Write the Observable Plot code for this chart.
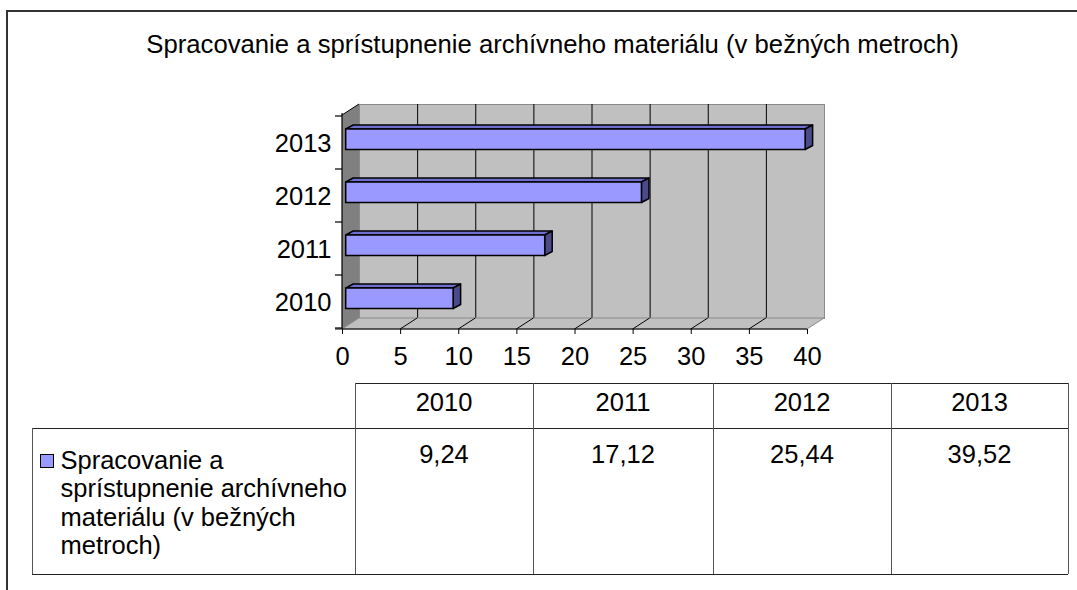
<!DOCTYPE html>
<html><head><meta charset="utf-8">
<script src="https://cdn.jsdelivr.net/npm/d3@7"></script>
<script src="https://cdn.jsdelivr.net/npm/@observablehq/plot@0.6"></script>
<style>
html,body{margin:0;padding:0;background:#fff;overflow:hidden;}
body{width:1077px;height:590px;position:relative;font-family:"Liberation Sans",Arial,sans-serif;color:#000;}
#frame{position:absolute;left:6px;top:10px;width:1200px;height:700px;border-left:2px solid #333;border-top:2px solid #333;}
#title{position:absolute;left:0;width:1105px;top:29.5px;line-height:28.3px;font-size:25.7px;text-align:center;white-space:nowrap;}
#chart{position:absolute;left:0;top:0;}
.cell{position:absolute;box-sizing:border-box;font-size:25.5px;line-height:28.3px;white-space:nowrap;}
.hl{position:absolute;height:0;border-top:1px solid #222;}
.vl{position:absolute;width:0;border-left:1px solid #555;}
</style></head><body>
<div id="frame"></div>
<div id="title"></div>
<div id="chart"></div>
<div id="table"></div>
<script>
// ---- data ----
const years = ["2010", "2011", "2012", "2013"];
const values = [9.24, 17.12, 25.44, 39.52];
const xTicks = [0, 5, 10, 15, 20, 25, 30, 35, 40];
const seriesName = "Spracovanie a sprístupnenie archívneho materiálu (v bežných metroch)";
const titleText = "Spracovanie a sprístupnenie archívneho materiálu (v bežných metroch)";

const data = years.map((year, i) => ({year, value: values[i]}));

// ---- styling constants ----
const DX = 17, DY = -11;       // depth of the 3D plot box
const BDX = 3.7;               // bar front-face offset
const BX = 7.5, BY = -4;       // bar depth
const INSET_TOP = 13, INSET_BOTTOM = 19.5;
const FRONT = "#9999ff", TOPC = "#6f6fd0", SIDE = "#4b4b8c";

document.getElementById("title").textContent = titleText;

function bandw(s) { return s.bandwidth ? s.bandwidth() : 0; }

// left wall, floor and floor lines
function wallsAndFloor(index, scales, vals, dim) {
  const {x} = scales;
  const top = dim.marginTop, bottom = dim.height - dim.marginBottom;
  const x0 = x(xTicks[0]), x1 = x(xTicks[xTicks.length - 1]);
  const g = d3.create("svg:g");
  g.append("path")
    .attr("d", `M${x0},${top}L${x0 + DX},${top + DY}L${x0 + DX},${bottom + DY}L${x0},${bottom}Z`)
    .attr("fill", "#808080");
  g.append("path")
    .attr("d", `M${x0},${top}L${x0 + DX},${top + DY}`)
    .attr("stroke", "#000").attr("stroke-width", 1);
  g.append("path")
    .attr("d", `M${x0},${bottom}L${x1},${bottom}L${x1 + DX},${bottom + DY}L${x0 + DX},${bottom + DY}Z`)
    .attr("fill", "#c0c0c0").attr("stroke", "#8a8a8a").attr("stroke-width", 1);
  for (const t of xTicks.slice(1, -1)) {
    g.append("path")
      .attr("d", `M${x(t)},${bottom}L${x(t) + DX},${bottom + DY}`)
      .attr("stroke", "#000").attr("stroke-width", 1);
  }
  return g.node();
}

// top and side faces of the bars
function barFaces(index, scales, vals, dim) {
  const {x, y} = scales;
  const bw = bandw(y);
  const g = d3.create("svg:g");
  for (const d of data) {
    const y0 = y(d.year) + INSET_TOP, h = bw - INSET_TOP - INSET_BOTTOM;
    const xa = x(0) + BDX, xb = x(d.value) + BDX;
    g.append("path")
      .attr("d", `M${xa},${y0}L${xa + BX},${y0 + BY}L${xb + BX},${y0 + BY}L${xb},${y0}Z`)
      .attr("fill", TOPC).attr("stroke", "#000").attr("stroke-width", 1.5).attr("stroke-linejoin", "round");
    g.append("path")
      .attr("d", `M${xb},${y0}L${xb + BX},${y0 + BY}L${xb + BX},${y0 + BY + h}L${xb},${y0 + h}Z`)
      .attr("fill", SIDE).attr("stroke", "#000").attr("stroke-width", 1.5).attr("stroke-linejoin", "round");
  }
  return g.node();
}

// axis lines and band-boundary ticks
function axisLines(index, scales, vals, dim) {
  const {x, y} = scales;
  const bw = bandw(y);
  const top = dim.marginTop, bottom = dim.height - dim.marginBottom;
  const x0 = x(xTicks[0]), x1 = x(xTicks[xTicks.length - 1]);
  const g = d3.create("svg:g").attr("stroke", "#000").attr("stroke-width", 1.2);
  g.append("path").attr("d", `M${x0 - 7},${bottom}L${x1},${bottom}`);
  g.append("path").attr("d", `M${x0},${top - 2}L${x0},${bottom}`);
  const bounds = y.domain().map(v => y(v));
  bounds.push(y(y.domain()[y.domain().length - 1]) + bw);
  for (const b of bounds) g.append("path").attr("d", `M${x0 - 7},${b}L${x0},${b}`);
  return g.node();
}

const chart = Plot.plot({
  width: 1077,
  height: 380,
  marginLeft: 342,
  marginRight: 270,
  marginTop: 115,
  marginBottom: 51,
  style: {fontFamily: "'Liberation Sans', Arial, sans-serif", fontSize: "25.5px", color: "#000", background: "transparent", overflow: "visible"},
  x: {domain: [0, 40]},
  y: {domain: years.slice().reverse(), padding: 0},
  marks: [
    Plot.frame({fill: "#c0c0c0", stroke: "#8a8a8a", dx: DX, dy: DY}),
    Plot.ruleX(xTicks.slice(1, -1), {stroke: "#000", strokeWidth: 1, dx: DX, dy: DY}),
    wallsAndFloor,
    barFaces,
    Plot.barX(data, {y: "year", x: "value", fill: FRONT, stroke: "#000", strokeWidth: 1.5,
      insetTop: INSET_TOP, insetBottom: INSET_BOTTOM, dx: BDX}),
    axisLines,
    Plot.axisX({ticks: xTicks, tickSize: 5, tickPadding: 12, tickFormat: d => String(d), fontSize: 25.5, label: null}),
    Plot.axisY({tickSize: 0, tickPadding: 11, fontSize: 25.5, dy: 1, label: null})
  ]
});
document.getElementById("chart").appendChild(chart);

// ---- data table ----
const T = document.getElementById("table");
const colX = [355, 533, 713, 891, 1068];
const rowY = [383, 428, 574];
const legendLeft = 32;
function add(cls, style, text) {
  const e = document.createElement("div");
  e.className = cls;
  Object.assign(e.style, style);
  if (text != null) e.textContent = text;
  T.appendChild(e);
  return e;
}
add("hl", {left: colX[0] + "px", top: rowY[0] + "px", width: (colX[4] - colX[0]) + "px"});
add("hl", {left: legendLeft + "px", top: rowY[1] + "px", width: (colX[4] - legendLeft) + "px"});
add("hl", {left: legendLeft + "px", top: rowY[2] + "px", width: (colX[4] - legendLeft) + "px"});
add("vl", {left: legendLeft + "px", top: rowY[1] + "px", height: (rowY[2] - rowY[1]) + "px"});
for (const cx of colX) add("vl", {left: cx + "px", top: rowY[0] + "px", height: (rowY[2] - rowY[0]) + "px"});
years.forEach((yr, i) => {
  add("cell", {left: colX[i] + "px", width: (colX[i + 1] - colX[i]) + "px", top: "387.9px", textAlign: "center"}, yr);
  add("cell", {left: colX[i] + "px", width: (colX[i + 1] - colX[i]) + "px", top: "440.2px", textAlign: "center"},
    values[i].toFixed(2).replace(".", ","));
});
add("cell", {left: "40px", top: "454px", width: "14px", height: "14px", background: FRONT, border: "1.5px solid #000"});
add("cell", {left: "60.5px", top: "446.2px", width: "295px", whiteSpace: "normal"}, seriesName);
</script>
</body></html>
